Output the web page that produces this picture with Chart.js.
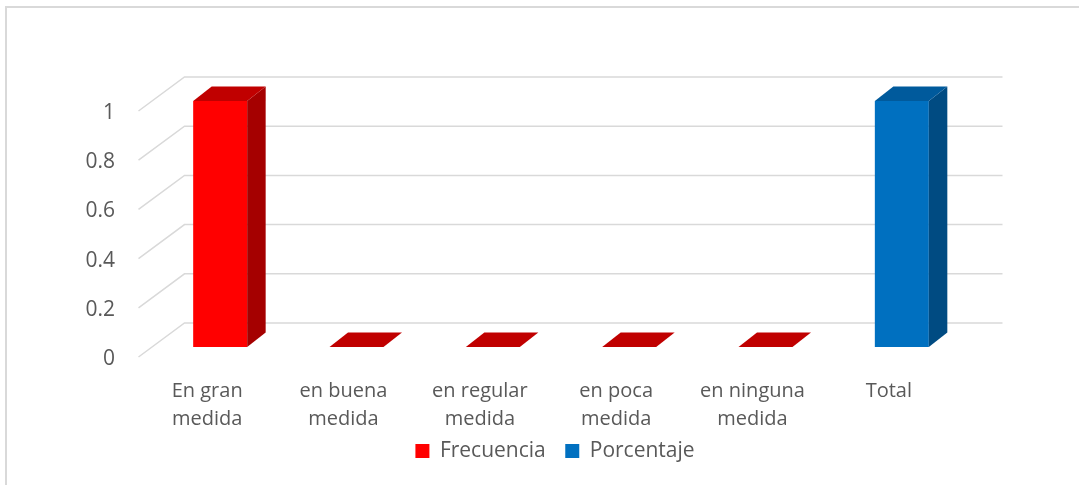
<!DOCTYPE html>
<html>
<head>
<meta charset="utf-8">
<script src="https://cdn.jsdelivr.net/npm/chart.js@4.4.1/dist/chart.umd.min.js"></script>
<style>
  html, body { margin: 0; padding: 0; background: #fff; overflow: hidden; }
  #wrap { position: relative; width: 1079px; height: 485px; }
  #frame { position: absolute; left: 5px; top: 6px; width: 1100px; height: 500px; border: 2px solid #d9d9d9; }
  canvas { position: absolute; left: 0; top: 0; }
</style>
</head>
<body>
<div id="wrap">
  <div id="frame"></div>
  <canvas id="chart" width="1079" height="485"></canvas>
</div>
<script>
// datos
const categorias = [
  ['En gran', 'medida'],
  ['en buena', 'medida'],
  ['en regular', 'medida'],
  ['en poca', 'medida'],
  ['en ninguna', 'medida'],
  'Total'
];
const frecuencia = [1, 0, 0, 0, 0, null];
const porcentaje = [null, null, null, null, null, 1];
const yTicks = [0, 0.2, 0.4, 0.6, 0.8, 1];

const TXT = '#595959';
const FONT = "'Open Sans', sans-serif";

// falso 3D tipo Excel
const DEPTH = { dx: 18.5, dy: -14.5 };  // profundidad de la barra
const WALL = { dx: 32.5, dy: -24 };     // pared del fondo
const FLOOR = { dx: -13.5, dy: 10 };    // borde frontal del piso

function poly(ctx, pts, color) {
  ctx.fillStyle = color;
  ctx.beginPath();
  ctx.moveTo(pts[0][0], pts[0][1]);
  for (let i = 1; i < pts.length; i++) ctx.lineTo(pts[i][0], pts[i][1]);
  ctx.closePath();
  ctx.fill();
}

const fake3d = {
  id: 'fake3d',
  beforeDatasetsDraw(chart) {
    const { ctx, chartArea: a, scales: { y } } = chart;
    ctx.save();
    ctx.strokeStyle = '#d9d9d9';
    ctx.lineWidth = 1.5;
    yTicks.forEach(v => {
      const py = y.getPixelForValue(v);
      ctx.beginPath();
      ctx.moveTo(a.left + FLOOR.dx, py + FLOOR.dy);
      ctx.lineTo(a.left + WALL.dx, py + WALL.dy);
      ctx.lineTo(a.right + WALL.dx, py + WALL.dy);
      ctx.stroke();
    });
    ctx.restore();
  },
  afterDatasetsDraw(chart) {
    const ctx = chart.ctx;
    ctx.save();
    chart.data.datasets.forEach((ds, i) => {
      const meta = chart.getDatasetMeta(i);
      meta.data.forEach((bar, j) => {
        if (ds.data[j] == null) return;
        const { x, y, base, width } = bar.getProps(['x', 'y', 'base', 'width'], true);
        const l = x - width / 2, r = x + width / 2;
        if (base - y > 0.5) {
          poly(ctx, [[r, y], [r + DEPTH.dx, y + DEPTH.dy], [r + DEPTH.dx, base + DEPTH.dy], [r, base]], ds.sideColor);
        }
        poly(ctx, [[l, y], [l + DEPTH.dx, y + DEPTH.dy], [r + DEPTH.dx, y + DEPTH.dy], [r, y]], ds.topColor);
      });
    });
    ctx.restore();
  }
};

const PAD_BOTTOM = 13.5;

new Chart(document.getElementById('chart'), {
  type: 'bar',
  data: {
    labels: categorias,
    datasets: [
      { label: 'Frecuencia', data: frecuencia, backgroundColor: '#ff0000', topColor: '#c00000', sideColor: '#a50000' },
      { label: 'Porcentaje', data: porcentaje, backgroundColor: '#0070c0', topColor: '#005a9c', sideColor: '#004b82' }
    ]
  },
  options: {
    responsive: false,
    animation: false,
    categoryPercentage: 1,
    barPercentage: 0.396,
    layout: { padding: { top: 101, right: 0, bottom: PAD_BOTTOM, left: 31 } },
    plugins: {
      tooltip: { enabled: false },
      legend: {
        position: 'bottom',
        labels: { boxWidth: 14, boxHeight: 14, padding: 19.5, color: TXT, font: { family: FONT, size: 21 } }
      }
    },
    scales: {
      x: {
        stacked: true,
        grid: { display: false },
        border: { display: false },
        ticks: {
          color: TXT, font: { family: FONT, size: 20, lineHeight: 1.37 },
          maxRotation: 0, autoSkip: false, padding: 23, labelOffset: -13
        },
        afterFit: s => {
          s.height = 485 - PAD_BOTTOM - s.chart.legend.height - 347;
          s._computeLabelArea = () => undefined; // sin recorte de las etiquetas
        }
      },
      y: {
        stacked: true,
        min: 0, max: 1,
        grid: { display: false },
        border: { display: false },
        afterBuildTicks: s => { s.ticks = yTicks.map(v => ({ value: v })); },
        ticks: {
          color: TXT, font: { family: FONT, size: 21 }, padding: 29, labelOffset: 12,
          callback: v => String(Math.round(v * 10) / 10)
        },
        afterFit: s => { s.width = 121; }
      },
      // eje vacío a la derecha, solo reserva espacio
      y2: {
        position: 'right',
        grid: { display: false },
        border: { display: false },
        ticks: { display: false },
        afterFit: s => { s.width = 109; }
      }
    }
  },
  plugins: [fake3d]
});
</script>
</body>
</html>
